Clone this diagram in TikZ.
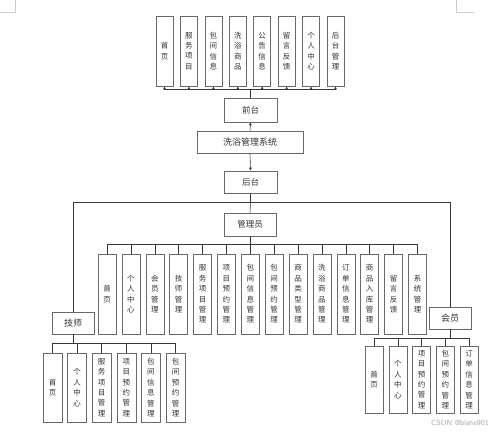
\documentclass[tikz,border=0pt]{standalone}
\usepackage{fontspec}
\newfontfamily\cjk{Noto Sans CJK SC}
\usetikzlibrary{arrows.meta,positioning}
\definecolor{boxgray}{RGB}{105,105,105}
\definecolor{linegray}{RGB}{55,55,55}
\definecolor{textgray}{RGB}{50,50,50}
\definecolor{markgray}{RGB}{205,205,205}
\tikzset{
  mainbox/.style={draw=boxgray,fill=white,line width=0.6pt,minimum width=53pt,minimum height=23pt,
    inner sep=1pt,text=textgray,font=\cjk\fontsize{8.5}{10}\selectfont},
  itembox/.style={draw=boxgray,fill=white,line width=0.6pt,minimum width=18pt,align=center,
    inner sep=1pt,text=textgray,font=\cjk\fontsize{7.5}{10.4}\selectfont},
  link/.style={draw=linegray,line width=0.6pt},
  uplink/.style={link,-{Latex[length=3pt,width=3pt]}},
  cornermark/.style={draw=markgray,line width=0.5pt}
}
\begin{document}
\begin{tikzpicture}[x=1pt,y=-1pt]
  \useasboundingbox (0,0) rectangle (500,431);
  \draw[cornermark] (0,12) -- (15,12) -- (15,0);
  \draw[cornermark] (456,0) -- (456,12) -- (475,12);

  % main column
  \node[mainbox,minimum height=24pt] (front) at (250.5,110) {前台};
  \node[mainbox,minimum width=106pt,minimum height=22pt,font=\cjk\fontsize{9}{10}\selectfont] (sys) at (250,142) {洗浴管理系统};
  \node[mainbox,minimum height=22pt] (back) at (250.5,182) {后台};
  \node[mainbox,minimum width=52pt] (admin) at (250,224.5) {管理员};
  \node[mainbox,minimum width=42pt,minimum height=22pt,font=\cjk\fontsize{9}{10}\selectfont] (tech) at (73,323) {技师};
  \node[mainbox,minimum width=42pt,minimum height=22pt,font=\cjk\fontsize{9}{10}\selectfont] (member) at (450,318) {会员};

  % front pages
  \node[itembox,minimum width=17pt,minimum height=70pt] (f1) at (164.5,51) {首\\页};
  \node[itembox,minimum width=17pt,minimum height=70pt] (f2) at (188.9,51) {服\\务\\项\\目};
  \node[itembox,minimum width=17pt,minimum height=70pt] (f3) at (213.4,51) {包\\间\\信\\息};
  \node[itembox,minimum width=17pt,minimum height=70pt] (f4) at (237.8,51) {洗\\浴\\商\\品};
  \node[itembox,minimum width=17pt,minimum height=70pt] (f5) at (262.2,51) {公\\告\\信\\息};
  \node[itembox,minimum width=17pt,minimum height=70pt] (f6) at (286.6,51) {留\\言\\反\\馈};
  \node[itembox,minimum width=17pt,minimum height=70pt] (f7) at (311.1,51) {个\\人\\中\\心};
  \node[itembox,minimum width=17pt,minimum height=70pt] (f8) at (335.5,51) {后\\台\\管\\理};

  % admin pages
  \node[itembox,minimum height=80pt] (a1) at (107,294) {首\\页};
  \node[itembox,minimum height=80pt] (a2) at (130.9,294) {个\\人\\中\\心};
  \node[itembox,minimum height=80pt] (a3) at (154.8,294) {会\\员\\管\\理};
  \node[itembox,minimum height=80pt] (a4) at (178.6,294) {技\\师\\管\\理};
  \node[itembox,minimum height=80pt] (a5) at (202.5,294) {服\\务\\项\\目\\管\\理};
  \node[itembox,minimum height=80pt] (a6) at (226.4,294) {项\\目\\预\\约\\管\\理};
  \node[itembox,minimum height=80pt] (a7) at (250.3,294) {包\\间\\信\\息\\管\\理};
  \node[itembox,minimum height=80pt] (a8) at (274.2,294) {包\\间\\预\\约\\管\\理};
  \node[itembox,minimum height=80pt] (a9) at (298.0,294) {商\\品\\类\\型\\管\\理};
  \node[itembox,minimum height=80pt] (a10) at (321.9,294) {洗\\浴\\商\\品\\管\\理};
  \node[itembox,minimum height=80pt] (a11) at (345.8,294) {订\\单\\信\\息\\管\\理};
  \node[itembox,minimum height=80pt] (a12) at (369.7,294) {商\\品\\入\\库\\管\\理};
  \node[itembox,minimum height=80pt] (a13) at (393.6,294) {留\\言\\反\\馈};
  \node[itembox,minimum height=80pt] (a14) at (417.5,294) {系\\统\\管\\理};

  % technician pages
  \node[itembox,minimum width=19pt,minimum height=69pt] (t1) at (52.5,387.5) {首\\页};
  \node[itembox,minimum width=19pt,minimum height=69pt] (t2) at (77.1,387.5) {个\\人\\中\\心};
  \node[itembox,minimum width=19pt,minimum height=69pt] (t3) at (101.7,387.5) {服\\务\\项\\目\\管\\理};
  \node[itembox,minimum width=19pt,minimum height=69pt] (t4) at (126.3,387.5) {项\\目\\预\\约\\管\\理};
  \node[itembox,minimum width=19pt,minimum height=69pt] (t5) at (150.9,387.5) {包\\间\\信\\息\\管\\理};
  \node[itembox,minimum width=19pt,minimum height=69pt] (t6) at (175.5,387.5) {包\\间\\预\\约\\管\\理};

  % member pages
  \node[itembox,minimum height=67pt] (m1) at (374,379.5) {首\\页};
  \node[itembox,minimum height=67pt] (m2) at (397.8,379.5) {个\\人\\中\\心};
  \node[itembox,minimum height=67pt] (m3) at (421.5,379.5) {项\\目\\预\\约\\管\\理};
  \node[itembox,minimum height=67pt] (m4) at (445.3,379.5) {包\\间\\预\\约\\管\\理};
  \node[itembox,minimum height=67pt] (m5) at (469,379.5) {订\\单\\信\\息\\管\\理};

  \node[font=\sffamily\fontsize{7.5}{9}\selectfont,text=black!35] (watermark) at (460,423) {CSDN @bishe901};

  % connectors
  \coordinate (fbus) at (250.5,89.5);
  \coordinate (bbus) at (250.5,202);
  \coordinate (abus) at (250,244);
  \coordinate (tbus) at (73,343);
  \coordinate (mbus) at (450,338);
  \draw[uplink] (sys.north) -- (front.south);
  \draw[uplink] (sys.south) -- (back.north);
  \draw[link] (front.north) -- (fbus);
  \foreach \i in {1,...,8} \draw[uplink] (fbus) -| (f\i.south);
  \draw[link] (back.south) -- (bbus) -- (admin.north);
  \draw[link] (bbus) -| (tech.north);
  \draw[link] (bbus) -| (member.north);
  \draw[link] (admin.south) -- (abus);
  \foreach \i in {1,...,14} \draw[link] (abus) -| (a\i.north);
  \draw[link] (tech.south) -- (tbus);
  \foreach \i in {1,...,6} \draw[link] (tbus) -| (t\i.north);
  \draw[link] (member.south) -- (mbus);
  \foreach \i in {1,...,5} \draw[link] (mbus) -| (m\i.north);
\end{tikzpicture}
\end{document}
